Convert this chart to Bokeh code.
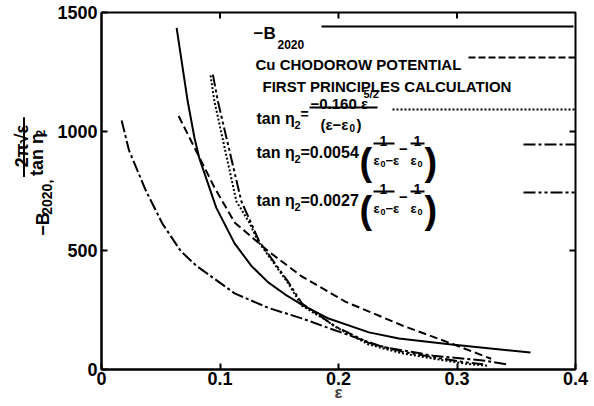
import math
from bokeh.plotting import figure
from bokeh.layouts import row
from bokeh.models import Range1d, FixedTicker, Label, Arrow
from bokeh.core.properties import value
from bokeh.embed import file_html
from bokeh.resources import INLINE

# ---------------- data ----------------
eps_b2020 = [0.0634, 0.0727, 0.0784, 0.0826, 0.0968, 0.1123, 0.1265, 0.1407, 0.1548, 0.169, 0.1916, 0.2257, 0.251, 0.2935, 0.362]
b2020 = [1435, 1128, 975, 887, 680, 530, 435, 366, 316, 273, 214, 156, 130, 106, 71]

eps_chod = [0.0651, 0.0798, 0.0953, 0.1123, 0.1407, 0.169, 0.1944, 0.2057, 0.2538, 0.2963, 0.3288]
chod = [1065, 919, 765, 618, 497, 391, 318, 285, 185, 107, 45]

eps_fp = [0.092, 0.0953, 0.1138, 0.125, 0.132, 0.1435, 0.1576, 0.169, 0.1887, 0.197, 0.2255, 0.2538, 0.282, 0.3076, 0.327]
fp_fit = [1236, 1127, 707, 615, 540, 460, 362, 268, 210, 180, 105, 68, 44, 24, 15]

eps_c54 = [0.017, 0.0232, 0.0374, 0.0515, 0.067, 0.0798, 0.1123, 0.1407, 0.169, 0.194, 0.237, 0.28, 0.3217, 0.3415]
c54 = [1046, 921, 752, 612, 497, 437, 320, 259, 215, 170, 95, 58, 38, 22]

eps_c27 = [0.094, 0.0982, 0.118, 0.133, 0.1576, 0.169, 0.197, 0.2255, 0.2538, 0.282, 0.3076, 0.322]
c27 = [1239, 1127, 707, 539, 368, 278, 182, 112, 75, 50, 30, 22]

x_ticks = [0.0, 0.1, 0.2, 0.3, 0.4]
x_tick_labels = ["0", "0.1", "0.2", "0.3", "0.4"]
y_ticks = [0, 500, 1000, 1500]
y_tick_labels = ["0", "500", "1000", "1500"]
top_ticks = [0.1, 0.2, 0.3]
right_ticks = [500, 1000]

# ---------------- layout constants (canvas pixels) ----------------
W, H = 594, 406
LW = 54                      # width of the strip holding the rotated y title
FL, FT, FR, FB = 101, 12, 575, 369
FONT = "Liberation Sans"
ang = math.pi / 2

# ---- strip with the y-axis title ----
q = figure(width=LW, height=H, x_range=Range1d(0, LW), y_range=Range1d(0, H),
           x_axis_type=None, y_axis_type=None, output_backend="svg", toolbar_location=None,
           min_border=0, min_border_left=0, min_border_right=0, min_border_top=0,
           min_border_bottom=0)
q.grid.visible = False
q.outline_line_color = None
q.background_fill_color = "white"
q.border_fill_color = "white"


def qlab(text, X, Y, size, align="left"):
    q.text(x=[X], y=[H - Y], text=[text], angle=ang, text_font=value(FONT),
           text_font_style="bold", text_font_size=f"{size}px", text_color="black",
           text_align=align, text_baseline="alphabetic")


qlab("\u2212B", 42, 254, 18)
qlab("2020,", 46, 230, 14)
qlab("2\u03c0\u221a\u03b5", 21, 152, 18, align="center")
q.segment(x0=[23.5], y0=[H - 187], x1=[23.5], y1=[H - 119], line_width=2, color="black")
qlab("tan \u03b7", 36, 186, 18)
qlab("2", 40, 141, 12)

# ---- main plot ----
p = figure(width=W - LW, height=H, x_range=Range1d(0, 0.4), y_range=Range1d(0, 1500),
           output_backend="svg", toolbar_location=None,
           min_border_left=FL - LW, min_border_right=W - FR, min_border_top=FT,
           min_border_bottom=H - FB)
p.grid.visible = False
p.outline_line_color = "black"
p.outline_line_width = 2
p.background_fill_color = "white"
p.border_fill_color = "white"

for ax in (p.xaxis[0], p.yaxis[0]):
    ax.major_tick_in = 6
    ax.major_tick_out = 0
    ax.minor_tick_line_color = None
    ax.axis_line_width = 2
    ax.axis_line_color = "black"
    ax.major_tick_line_width = 2
    ax.major_tick_line_color = "black"
    ax.major_label_text_font = FONT
    ax.major_label_text_font_style = "bold"
    ax.major_label_text_font_size = "18px"
    ax.major_label_text_color = "black"
p.yaxis.major_label_standoff = 4
p.xaxis.major_label_standoff = 2
p.xaxis.ticker = FixedTicker(ticks=x_ticks)
p.yaxis.ticker = FixedTicker(ticks=y_ticks)
p.xaxis.major_label_overrides = dict(zip(x_ticks, x_tick_labels))
p.yaxis.major_label_overrides = dict(zip([float(t) for t in y_ticks], y_tick_labels))
p.xaxis.axis_label = "\u03b5"
p.xaxis.axis_label_text_font = FONT
p.xaxis.axis_label_text_font_style = "bold"
p.xaxis.axis_label_text_font_size = "17px"
p.xaxis.axis_label_standoff = -5

# mirrored inward ticks on top and right
p.ray(x=top_ticks, y=[1500] * len(top_ticks), length=6, length_units="screen",
      angle=-math.pi / 2, line_width=2, color="black")
p.ray(x=[0.4] * len(right_ticks), y=right_ticks, length=6, length_units="screen",
      angle=math.pi, line_width=2, color="black")

# curves
p.line(eps_b2020, b2020, line_width=2, color="black")
p.line(eps_chod, chod, line_width=2, color="black", line_dash="8 4")
p.line(eps_fp, fp_fit, line_width=2, color="black", line_dash="2 2")
p.line(eps_c54, c54, line_width=2, color="black", line_dash="12 3 3 3")
p.line(eps_c27, c27, line_width=2, color="black", line_dash="12 3 3 3 3 3")


def lab(text, X, Y, size, align="left"):
    p.add_layout(Label(x=X - FL, y=FB - Y, x_units="screen", y_units="screen", text=text,
                       text_font=FONT, text_font_style="bold", text_font_size=f"{size}px",
                       text_color="black", text_align=align, text_baseline="alphabetic"))


def hline(X1, X2, Y, dash="solid", width=2):
    p.add_layout(Arrow(x_start=X1 - FL, y_start=FB - Y, x_end=X2 - FL, y_end=FB - Y,
                       start_units="screen", end_units="screen", start=None, end=None,
                       line_width=width, line_color="black", line_dash=dash))


# ---- legend ----
lab("\u2212B", 253, 33, 17)
lab("2020", 277, 44, 12)
hline(321, 573, 26)

lab("Cu CHODOROW POTENTIAL", 255, 64, 15)
hline(468, 577, 57, dash="7 3")
lab("FIRST PRINCIPLES CALCULATION", 262, 86, 15)

# tan eta2 = -0.160 eps^{5/2}/(eps - eps0)
lab("tan \u03b7", 256, 118, 16)
lab("2", 294, 124, 11)
lab("=", 300, 113, 14)
lab("\u22120.160 \u03b5", 310, 103, 15)
lab("5/2", 363, 93, 11)
hline(309, 377, 107)
lab("(\u03b5\u2212\u03b5", 320, 124, 15)
lab("0", 349, 127, 10)
lab(")", 356, 124, 15)
hline(392, 576, 109, dash="2 2")


def tan_row(coef, Y0, dash):
    # Y0: baseline of the "tan" text
    lab("tan \u03b7", 256, Y0, 16)
    lab("2", 294, Y0 + 6, 11)
    lab("=" + coef, 300, Y0, 16)
    lab("(", 359, Y0 + 9, 38)
    lab("1", 383, Y0 - 12, 14, align="center")
    hline(373, 394, Y0 - 9)
    lab("\u03b5", 373, Y0 + 8, 13)
    lab("0", 380, Y0 + 11, 9)
    lab("\u2212\u03b5", 385, Y0 + 8, 13)
    lab("\u2212", 403, Y0 - 4, 15, align="center")
    lab("1", 417, Y0 - 12, 14, align="center")
    hline(410, 424, Y0 - 9)
    lab("\u03b5", 410, Y0 + 8, 13)
    lab("0", 417, Y0 + 11, 9)
    lab(")", 424, Y0 + 9, 38)
    hline(523, 576, Y0 - 8, dash=dash)


tan_row("0.0054", 152, "12 3 3 3")
tan_row("0.0027", 200, "12 3 3 3 3 3")

layout = row(q, p, spacing=0)
open("out.html", "w").write(file_html(layout, INLINE))
